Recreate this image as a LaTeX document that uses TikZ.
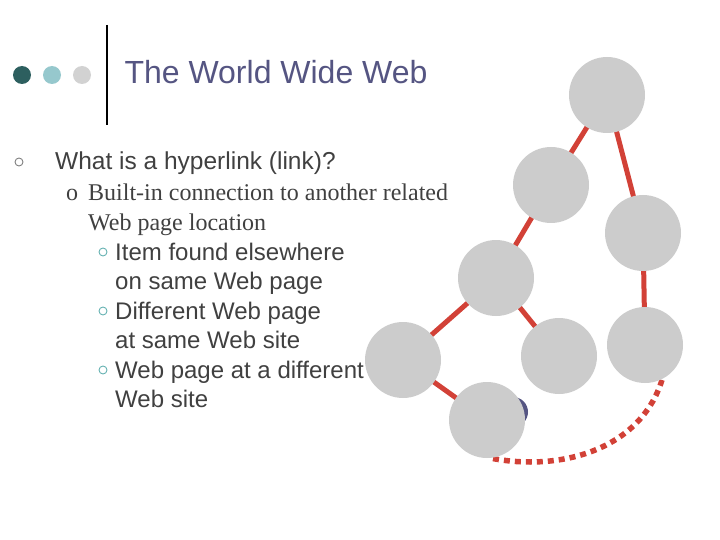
\documentclass[tikz,border=0pt]{standalone}
\usepackage{fontspec}
\setmainfont{Liberation Sans}
\newfontfamily\serifx{Liberation Serif}
\begin{document}
\begin{tikzpicture}[x=1pt,y=-1pt,
  pg/.style={circle,fill=gray!40!white,minimum size=76pt,inner sep=0pt},
  tx/.style={anchor=base west,inner sep=0pt,text=black!75},
  bul/.style={circle,draw=gray,line width=0.9pt,minimum size=8pt,inner sep=0pt}]
\useasboundingbox (0,0) rectangle (720,540);
\definecolor{ttl}{RGB}{85,85,130}
\definecolor{lnk}{RGB}{210,65,55}
\node[circle,fill={rgb,255:red,45;green,95;blue,95},minimum size=18pt] (d1) at (22,75) {};
\node[circle,fill={rgb,255:red,150;green,200;blue,205},minimum size=18pt] (d2) at (52,75) {};
\node[circle,fill=gray!35,minimum size=18pt] (d3) at (82,75) {};
\draw[line width=2.5pt] (107,25) coordinate (b1) -- (107,125) coordinate (b2);
\node[anchor=base west,text=ttl,font=\fontsize{32}{36}\selectfont] (t) at (121,84) {The World Wide Web};
\node[bul] (o1) at (19,162) {};
\node[tx,font=\fontsize{24.5}{28}\selectfont] (l1) at (55,170) {What is a hyperlink (link)?};
\node[tx,font=\serifx\fontsize{24}{28}\selectfont] (o2) at (66,201) {o};
\node[tx,font=\serifx\fontsize{24}{28}\selectfont] (l2) at (88,201) {Built-in connection to another related};
\node[tx,font=\serifx\fontsize{24}{28}\selectfont] (l3) at (88,230) {Web page location};
\node[bul,draw=teal!60] (o3) at (103,252) {};
\node[tx,font=\fontsize{24}{28}\selectfont] (l4) at (115,260) {Item found elsewhere};
\node[tx,font=\fontsize{24}{28}\selectfont] (l5) at (115,289) {on same Web page};
\node[bul,draw=teal!60] (o4) at (103,311) {};
\node[tx,font=\fontsize{24}{28}\selectfont] (l6) at (115,319) {Different Web page};
\node[tx,font=\fontsize{24}{28}\selectfont] (l7) at (115,348) {at same Web site};
\node[bul,draw=teal!60] (o5) at (103,370) {};
\node[tx,font=\fontsize{24}{28}\selectfont] (l8) at (115,378) {Web page at a different};
\node[tx,font=\fontsize{24}{28}\selectfont] (l9) at (115,407) {Web site};
\coordinate (A) at (607,95);
\coordinate (B) at (551,185);
\coordinate (C) at (643,233);
\coordinate (D) at (496,278);
\coordinate (E) at (403,360);
\coordinate (F) at (559,356);
\coordinate (G) at (645,345);
\coordinate (H) at (487,420);
\draw[draw=lnk,line width=5pt] (A)--(B) (A)--(C) (B)--(D) (C)--(G) (D)--(E) (D)--(F) (E)--(H);
\draw[draw=lnk,line width=5.5pt,dash pattern=on 6pt off 5pt] (662,380) .. controls (640,450) and (560,472) .. (490,458);
\fill[ttl] (513,412) circle (15pt);
\foreach \n in {A,B,C,D,E,F,G,H}{\node[pg] (n\n) at (\n) {};}
\end{tikzpicture}
\end{document}
